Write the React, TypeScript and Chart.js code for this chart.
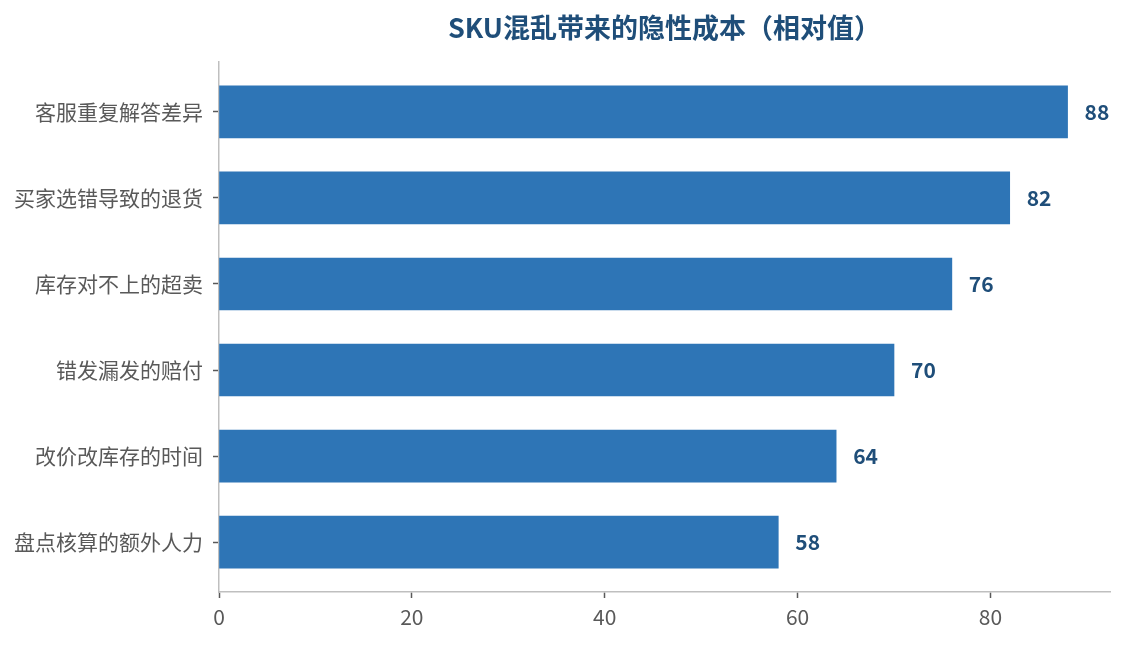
import React, { useEffect, useRef } from "react";
import { Chart, registerables } from "chart.js";

Chart.register(...registerables);

// ── Data ──────────────────────────────────────────────────────
const categories = [
  "客服重复解答差异",
  "买家选错导致的退货",
  "库存对不上的超卖",
  "错发漏发的赔付",
  "改价改库存的时间",
  "盘点核算的额外人力",
];
const costValues = [88, 82, 76, 70, 64, 58];
const xTickValues = [0, 20, 40, 60, 80];

const TITLE = "SKU混乱带来的隐性成本（相对值）";
const FONT = "'Noto Sans CJK SC', 'Noto Sans', sans-serif";
const BAR_COLOR = "#2e75b6";
const DARK_BLUE = "#1f4e79";
const TICK_COLOR = "#595959";
const SPINE_COLOR = "#bfbfbf";

// ── Value labels at bar ends ──────────────────────────────────
const valueLabels = {
  id: "valueLabels",
  afterDatasetsDraw(chart: Chart) {
    const { ctx } = chart;
    const meta = chart.getDatasetMeta(0);
    ctx.save();
    ctx.font = `bold 21px ${FONT}`;
    ctx.fillStyle = DARK_BLUE;
    ctx.textAlign = "left";
    ctx.textBaseline = "middle";
    meta.data.forEach((bar: any, i: number) => {
      ctx.fillText(String(costValues[i]), bar.x + 17, bar.y);
    });
    ctx.restore();
  },
};

const App: React.FC = () => {
  const canvasRef = useRef<HTMLCanvasElement>(null);

  useEffect(() => {
    document.body.style.margin = "0";
    if (!canvasRef.current) return;

    const chart = new Chart(canvasRef.current, {
      type: "bar",
      data: {
        datasets: [
          {
            data: costValues.map((v, i) => ({ x: v, y: i })),
            backgroundColor: BAR_COLOR,
            barThickness: 52,
            borderWidth: 0,
          },
        ],
      },
      options: {
        indexAxis: "y",
        responsive: true,
        maintainAspectRatio: false,
        animation: false,
        layout: { padding: { left: 0, right: 14, top: 0, bottom: 0 } },
        plugins: {
          legend: { display: false },
          tooltip: { enabled: false },
          title: {
            display: true,
            text: TITLE,
            fullSize: false,
            color: DARK_BLUE,
            font: { size: 27, weight: "bold", family: FONT, lineHeight: 1.2 },
            padding: { top: 12, bottom: 17.6 },
          },
        },
        scales: {
          x: {
            type: "linear",
            min: 0,
            max: 92.4,
            afterBuildTicks: (scale: any) => {
              scale.ticks = xTickValues.map((v) => ({ value: v }));
            },
            afterFit: (scale: any) => {
              scale.height = 53;
            },
            ticks: {
              color: TICK_COLOR,
              font: { size: 21, family: FONT },
              padding: 6,
            },
            grid: {
              drawOnChartArea: false,
              drawTicks: true,
              tickLength: 6,
              tickColor: TICK_COLOR,
              tickWidth: 1.5,
            },
            border: { display: true, color: SPINE_COLOR, width: 1.5 },
          },
          y: {
            type: "linear",
            reverse: true,
            offset: false,
            min: -0.58,
            max: categories.length - 1 + 0.58,
            afterBuildTicks: (scale: any) => {
              scale.ticks = categories.map((_, i) => ({ value: i }));
            },
            afterFit: (scale: any) => {
              scale.width = 219;
            },
            ticks: {
              color: TICK_COLOR,
              font: { size: 21, family: FONT },
              padding: 10,
              callback: (v: any) => categories[Number(v)] ?? "",
            },
            grid: {
              offset: false,
              drawOnChartArea: false,
              drawTicks: true,
              tickLength: 6,
              tickColor: TICK_COLOR,
              tickWidth: 1.5,
            },
            border: { display: true, color: SPINE_COLOR, width: 1.5 },
          },
        },
      },
      plugins: [valueLabels],
    });

    return () => chart.destroy();
  }, []);

  return (
    <div style={{ width: 1124, height: 645, position: "relative" }}>
      <canvas ref={canvasRef} />
    </div>
  );
};

export default App;
